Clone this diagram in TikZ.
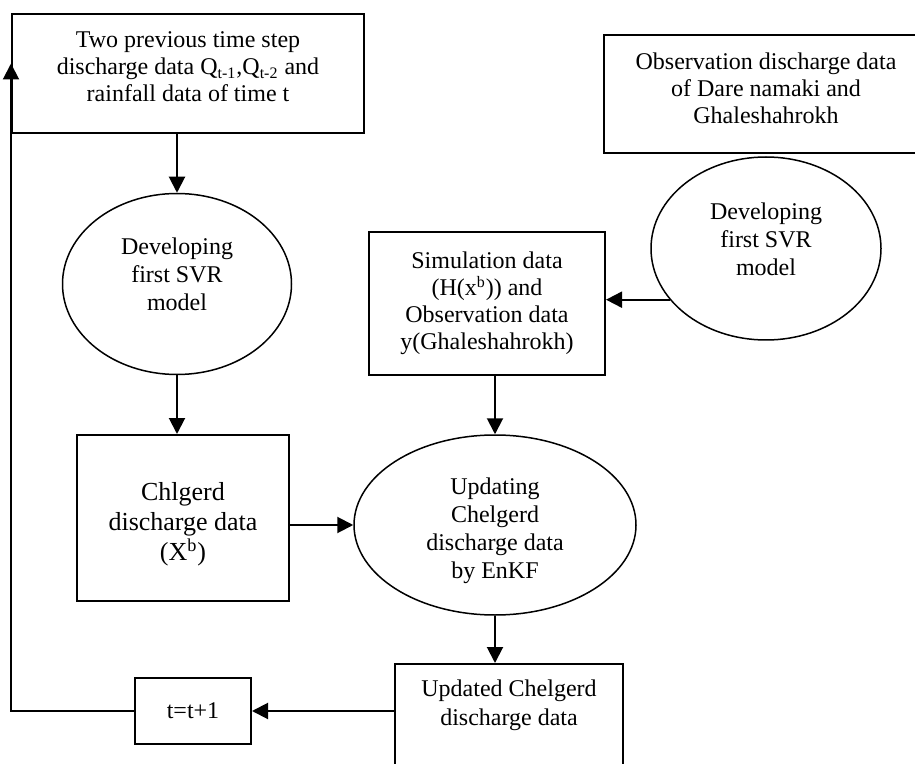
\documentclass[tikz,border=0pt]{standalone}
\usepackage{fontspec}
\setmainfont{Liberation Serif}
\usetikzlibrary{arrows.meta,shapes.geometric}

\begin{document}
\begin{tikzpicture}[x=0.5pt, y=-0.5pt,
    box/.style={draw, line width=1pt, align=center, inner sep=0pt, font=\fontsize{12}{13.5}\selectfont},
    oval/.style={draw, ellipse, line width=0.75pt, align=center, inner sep=0pt, font=\fontsize{12}{14}\selectfont},
    flow/.style={-{Triangle[length=8pt, width=8pt]}, line width=1pt}]
    \useasboundingbox (0,0) rectangle (915,764);
    % Left column with the model loop
    \node[box, minimum width=176pt, minimum height=59.5pt] (prev) at (188,73.5) {Two previous time step\\discharge data Q\textsubscript{t-1},Q\textsubscript{t-2} and\\rainfall data of time t\\[-6.5pt]\mbox{}};
    \node[oval, minimum width=114.5pt, minimum height=90.5pt] (svrA) at (177,284) {Developing\\first SVR\\model\\[-4pt]\mbox{}};
    \node[box, font=\fontsize{13}{15}\selectfont, minimum width=106pt, minimum height=83pt] (chl) at (183,518) {\mbox{}\\Chlgerd\\discharge data\\(X\textsuperscript{b})};
    \node[box, minimum width=58pt, minimum height=33pt] (tstep) at (193,711) {t=t+1};
    % Right column with the observations
    \node[box, minimum width=162pt, minimum height=59pt] (obs) at (766,94) {Observation discharge data\\of Dare namaki and\\Ghaleshahrokh\\[-7.5pt]\mbox{}};
    \node[oval, minimum width=115pt, minimum height=91.5pt] (svrB) at (766,248.5) {Developing\\first SVR\\model\\[-5pt]\mbox{}};
    \node[box, minimum width=118pt, minimum height=71.5pt] (sim) at (487,303.5) {Simulation data\\(H(x\textsuperscript{b})) and\\Observation data\\y(Ghaleshahrokh)};
    \node[oval, minimum width=141pt, minimum height=90pt] (enkf) at (495,525) {\mbox{}\\Updating\\Chelgerd\\discharge data\\by EnKF};
    \node[box, minimum width=114pt, minimum height=65pt, anchor=north] (upd) at (509,663) {};
    \node[anchor=north, align=center, font=\fontsize{12}{14.5}\selectfont] (updtxt) at ([yshift=-5pt]upd.north) {Updated Chelgerd\\discharge data};
    % Arrows
    \draw[flow] (svrA.north |- prev.south) -- (svrA.north);
    \draw[flow] (svrA.south) -- (svrA.south |- chl.north);
    \draw[flow] (enkf.west -| chl.east) -- (enkf.west);
    \draw[flow] (enkf.north |- sim.south) -- (enkf.north);
    \draw[flow] (svrB.208) -- (svrB.208 -| sim.east);
    \draw[flow] (enkf.south) -- (enkf.south |- upd.north);
    \draw[flow] (tstep.east -| upd.west) -- (tstep.east);
    \draw[flow] (tstep.west) -| ([yshift=5pt]prev.west);
\end{tikzpicture}
\end{document}
